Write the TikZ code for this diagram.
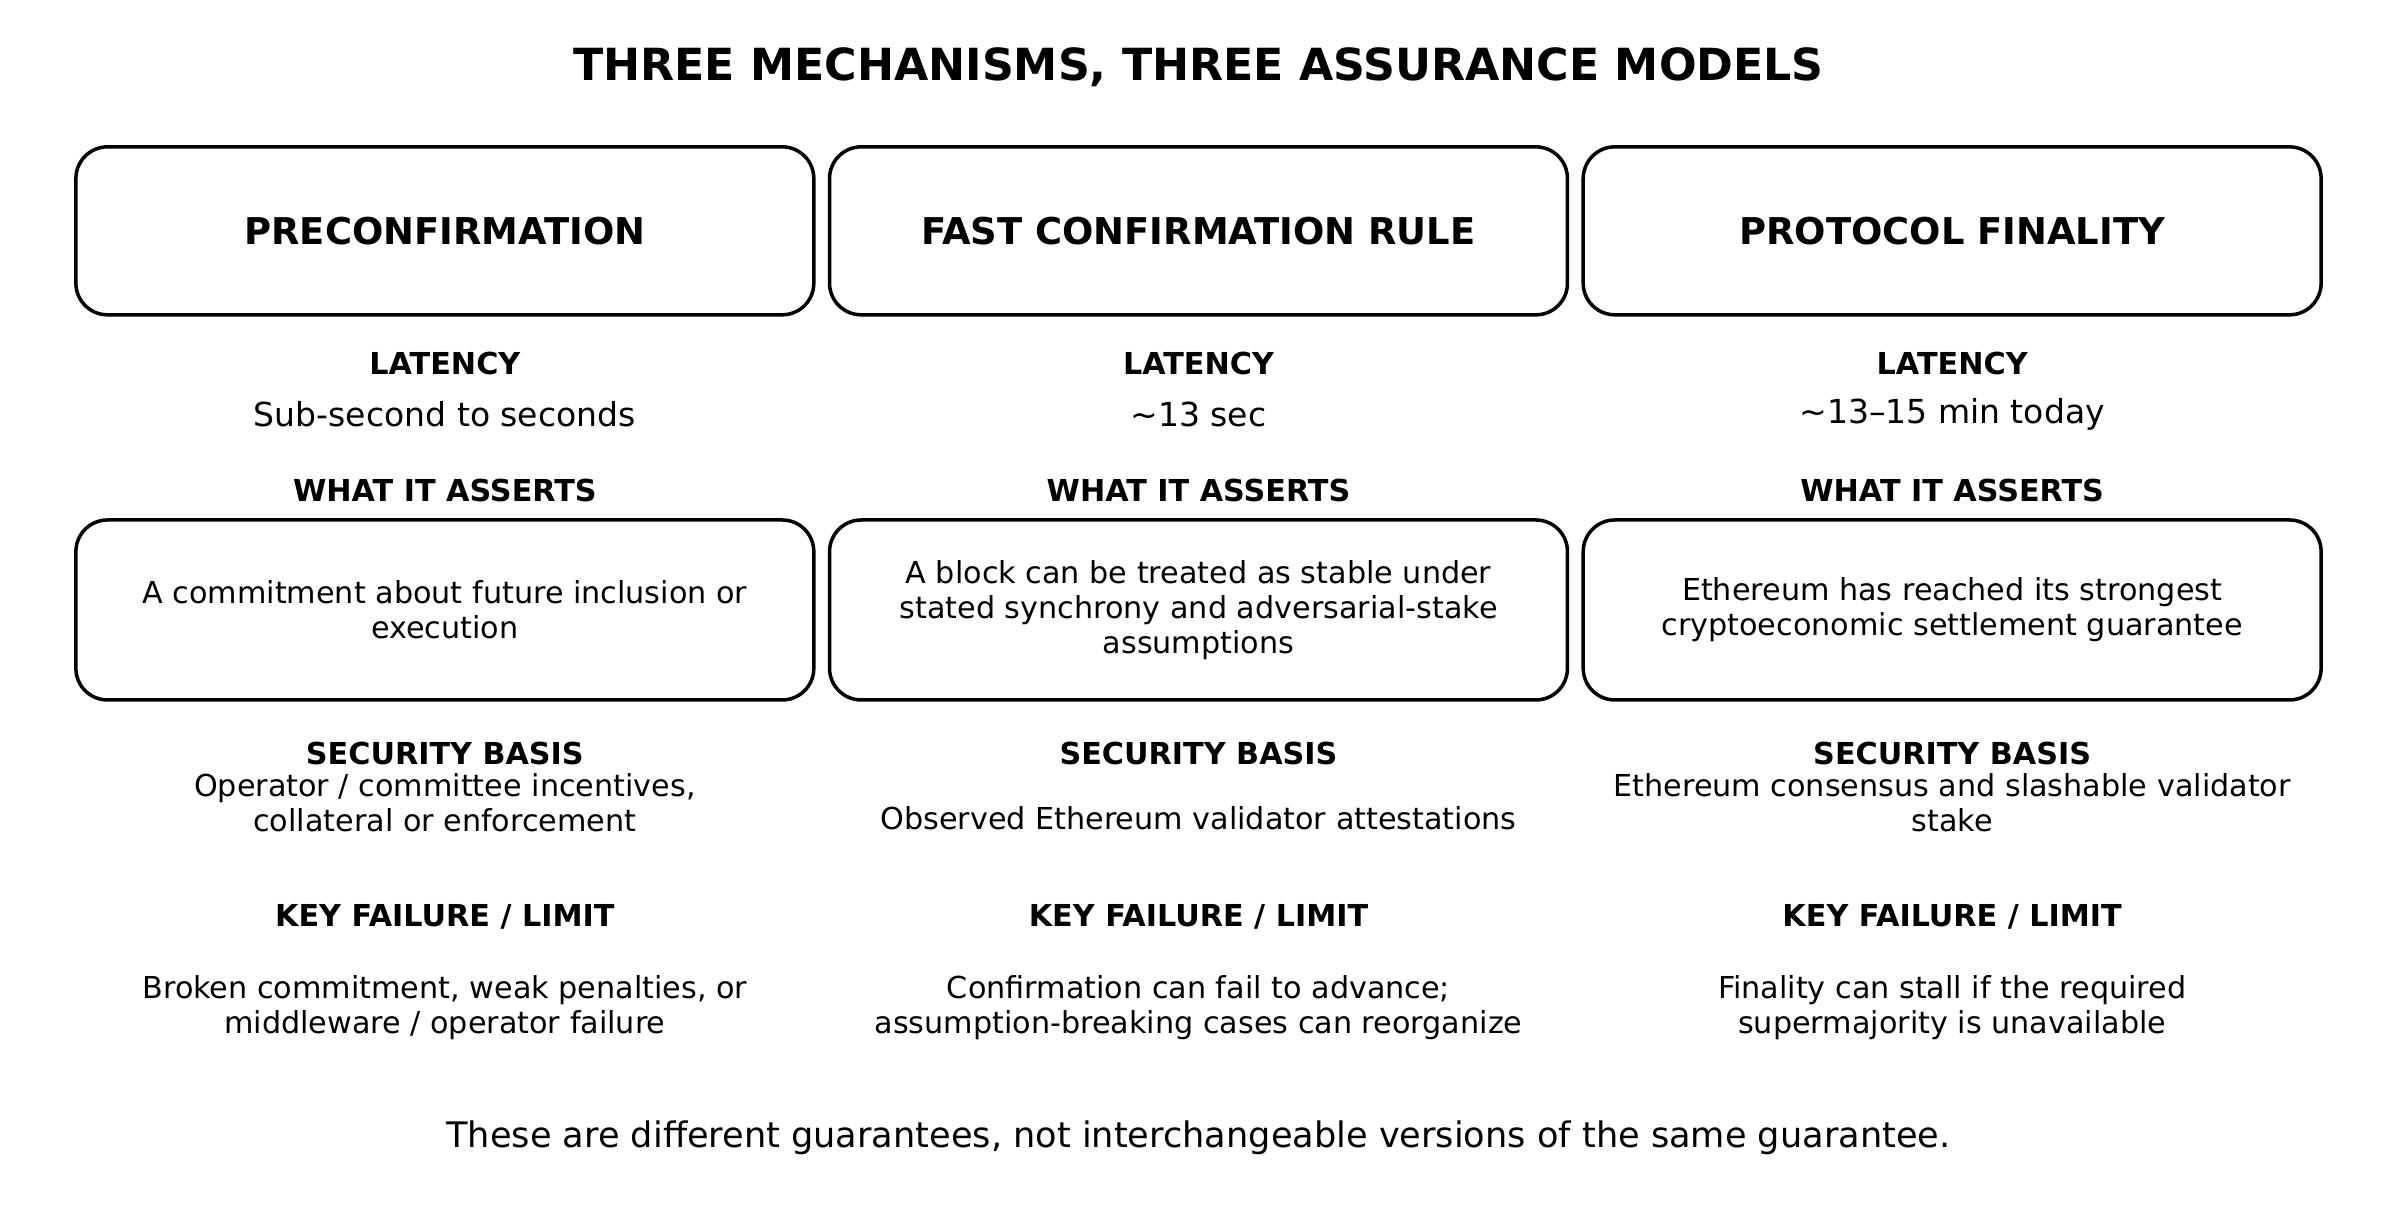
\documentclass[tikz,border=0pt]{standalone}
\usepackage{fontspec}
\setmainfont{DejaVu Sans}
\usetikzlibrary{positioning}
\begin{document}
\begin{tikzpicture}[x=0.01529cm, y=-0.01529cm,
   card/.style={draw, line width=1pt, rounded corners=9pt, minimum width=7.38cm, align=center},
   head/.style={card, minimum height=1.68cm, font=\bfseries\fontsize{10.5}{12}\selectfont},
   claim/.style={card, minimum height=1.8cm, font=\fontsize{8.6}{10}\selectfont},
   tag/.style={font=\bfseries\fontsize{8.6}{10}\selectfont, align=center},
   val/.style={font=\fontsize{9.4}{11}\selectfont, align=center},
   body/.style={font=\fontsize{8.6}{10}\selectfont, align=center}]
   \useasboundingbox (0,0) rectangle (1568,791);
   \node (title) at (784,44) [font=\bfseries\fontsize{12.6}{15}\selectfont] {THREE MECHANISMS, THREE ASSURANCE MODELS};
   % column 1
   \node (pre) at (291,151) [head] {PRECONFIRMATION};
   \node (preLat) at (291,238) [tag] {LATENCY};
   \node (preLatV) at (291,271) [val] {Sub-second to seconds};
   \node (preAs) at (291,321) [tag] {WHAT IT ASSERTS};
   \node (preClaim) at (291,399) [claim] {A commitment about future inclusion or\\execution};
   \node (preSec) at (291,493) [tag] {SECURITY BASIS};
   \node (preSecV) at (291,525) [body] {Operator / committee incentives,\\collateral or enforcement};
   \node (preKey) at (291,600) [tag] {KEY FAILURE / LIMIT};
   \node (preKeyV) at (291,659) [body] {Broken commitment, weak penalties, or\\middleware / operator failure};
   % column 2
   \node (fcr) at (784,151) [head] {FAST CONFIRMATION RULE};
   \node (fcrLat) at (784,238) [tag] {LATENCY};
   \node (fcrLatV) at (784,271) [val] {\textasciitilde13 sec};
   \node (fcrAs) at (784,321) [tag] {WHAT IT ASSERTS};
   \node (fcrClaim) at (784,399) [claim] {A block can be treated as stable under\\stated synchrony and adversarial-stake\\assumptions};
   \node (fcrSec) at (784,493) [tag] {SECURITY BASIS};
   \node (fcrSecV) at (784,535) [body] {Observed Ethereum validator attestations};
   \node (fcrKey) at (784,600) [tag] {KEY FAILURE / LIMIT};
   \node (fcrKeyV) at (784,659) [body] {Confirmation can fail to advance;\\assumption-breaking cases can reorganize};
   % column 3
   \node (fin) at (1277,151) [head] {PROTOCOL FINALITY};
   \node (finLat) at (1277,238) [tag] {LATENCY};
   \node (finLatV) at (1277,271) [val] {\textasciitilde13--15 min today};
   \node (finAs) at (1277,321) [tag] {WHAT IT ASSERTS};
   \node (finClaim) at (1277,399) [claim] {Ethereum has reached its strongest\\cryptoeconomic settlement guarantee};
   \node (finSec) at (1277,493) [tag] {SECURITY BASIS};
   \node (finSecV) at (1277,525) [body] {Ethereum consensus and slashable validator\\stake};
   \node (finKey) at (1277,600) [tag] {KEY FAILURE / LIMIT};
   \node (finKeyV) at (1277,659) [body] {Finality can stall if the required\\supermajority is unavailable};
   \node (note) at (784,744) [font=\fontsize{10}{12}\selectfont] {These are different guarantees, not interchangeable versions of the same guarantee.};
\end{tikzpicture}
\end{document}
